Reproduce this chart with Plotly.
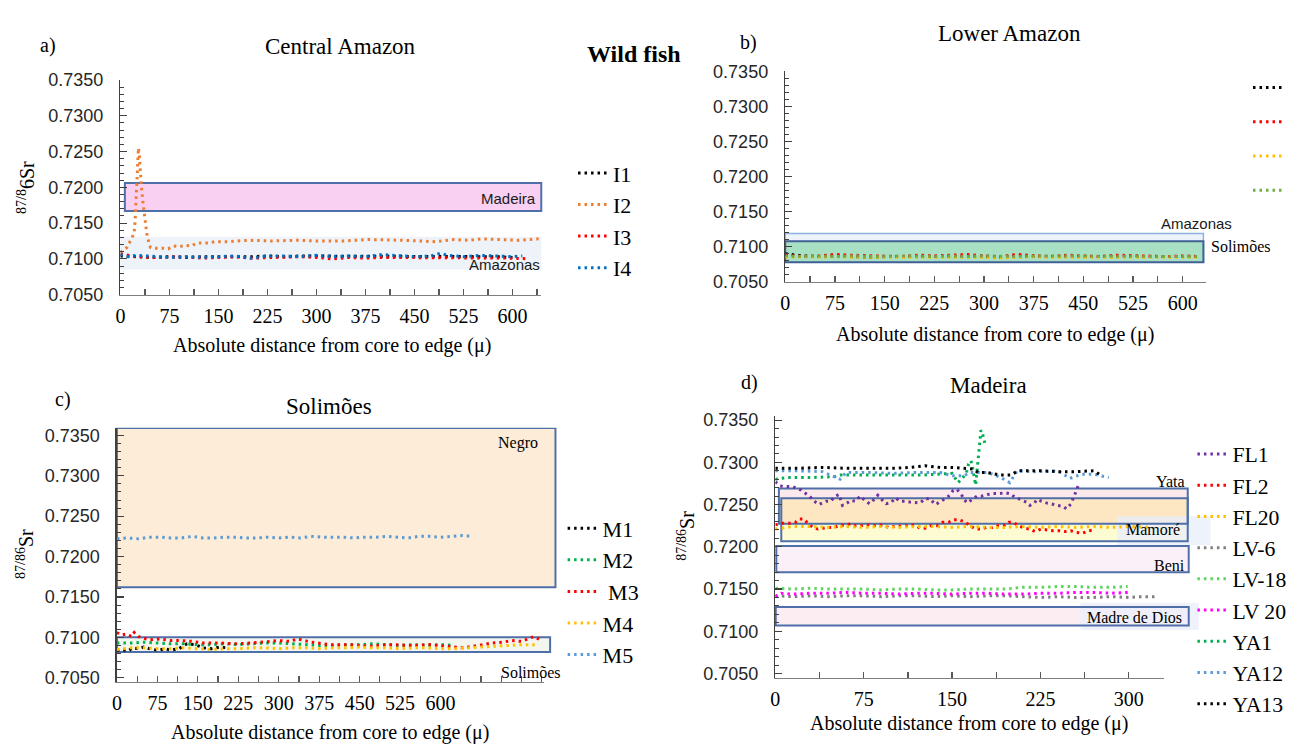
import plotly.graph_objects as go

W, H = 1299, 751
SERIF = "Liberation Serif"
SANS = "Liberation Sans"


def fx(p):
    return p / W


def fy(p):
    return 1 - p / H


# ---------------- shared tick labels ----------------
y_tick_vals = [0.705, 0.710, 0.715, 0.720, 0.725, 0.730, 0.735]
y_tick_text = ["0.7050", "0.7100", "0.7150", "0.7200", "0.7250", "0.7300", "0.7350"]
x_tick_vals_long = [0, 75, 150, 225, 300, 375, 450, 525, 600]
x_tick_vals_short = [0, 75, 150, 225, 300]

# ---------------- a) Central Amazon ----------------
a_names = ["I1", "I2", "I3", "I4"]
a_colors = ["#000000", "#ed7d31", "#ff0000", "#0070c0"]
I1_x = [0, 25, 50, 75, 100, 125, 150, 175, 200, 225, 250, 275, 300, 325, 350, 375, 400, 425, 450, 475, 500, 525, 550, 575, 600]
I1_y = [0.7104, 0.7103, 0.7102, 0.7103, 0.7102, 0.7103, 0.7103, 0.7102, 0.7103, 0.7104, 0.7103, 0.7104, 0.7104,
        0.7103, 0.7104, 0.7103, 0.7104, 0.7103, 0.7103, 0.7103, 0.7104, 0.7103, 0.7103, 0.7103, 0.7102]
I2_x = [0, 10, 17, 21, 22.5, 24, 25, 26, 27, 27.6, 29, 30, 32, 34, 36, 38, 41, 46, 54, 64, 73, 81, 90, 99, 108,
        117, 135, 144, 163, 198, 230, 274, 300, 340, 380, 431, 460, 482, 510, 533, 553, 583, 610, 640]
I2_y = [0.7109, 0.7116, 0.7128, 0.7136, 0.7153, 0.7178, 0.7200, 0.7221, 0.7240, 0.7255, 0.7244, 0.7224, 0.7203,
        0.7183, 0.7167, 0.7149, 0.7131, 0.7116, 0.7115, 0.7115, 0.7114, 0.7118, 0.7117, 0.7119, 0.7118, 0.7122,
        0.7122, 0.7124, 0.7124, 0.7126, 0.7125, 0.7126, 0.7125, 0.7125, 0.7127, 0.7126, 0.7125, 0.7124, 0.7127,
        0.7126, 0.7128, 0.7127, 0.7126, 0.7128]
I3_x = [0, 25, 50, 75, 100, 125, 150, 175, 200, 225, 250, 275, 300, 325, 350, 375, 400, 425, 450, 475, 500, 525,
        550, 575, 600, 625]
I3_y = [0.7107, 0.7103, 0.7102, 0.7102, 0.7103, 0.7101, 0.7102, 0.7103, 0.7101, 0.7102, 0.7102, 0.7103, 0.7102,
        0.7100, 0.7102, 0.7101, 0.7102, 0.7102, 0.7101, 0.7102, 0.7101, 0.7102, 0.7101, 0.7102, 0.7101, 0.7100]
I4_x = [0, 12, 25, 50, 75, 100, 125, 150, 175, 200, 225, 250, 275, 300, 325, 350, 375, 400, 425, 450, 475, 490,
        500, 525, 550, 575, 600, 615]
I4_y = [0.7106, 0.7103, 0.7105, 0.7103, 0.7102, 0.7103, 0.7102, 0.7103, 0.7104, 0.7101, 0.7104, 0.7104, 0.7103,
        0.7105, 0.7103, 0.7104, 0.7103, 0.7106, 0.7104, 0.7103, 0.7104, 0.7108, 0.7105, 0.7103, 0.7105, 0.7104,
        0.7103, 0.7104]
a_madeira_range = [0.7167, 0.7206]
a_amazonas_range = [0.7085, 0.7131]

# ---------------- b) Lower Amazon ----------------
b_colors = ["#000000", "#ff0000", "#ffc000", "#70ad47"]
b_x = [0, 25, 50, 75, 100, 125, 150, 175, 200, 225, 250, 275, 300, 325, 350, 375, 400, 425, 450, 475, 500, 525,
       550, 575, 600, 625]
B1_y = [0.7090, 0.7087, 0.7086, 0.7087, 0.7086, 0.7085, 0.7086, 0.7086, 0.7087, 0.7086, 0.7086, 0.7087, 0.7086,
        0.7085, 0.7087, 0.7086, 0.7086, 0.7087, 0.7086, 0.7086, 0.7087, 0.7086, 0.7086, 0.7087, 0.7087, 0.7086]
B2_y = [0.7088, 0.7086, 0.7087, 0.7089, 0.7088, 0.7087, 0.7086, 0.7086, 0.7088, 0.7087, 0.7088, 0.7089, 0.7087,
        0.7086, 0.7089, 0.7087, 0.7086, 0.7088, 0.7087, 0.7086, 0.7088, 0.7087, 0.7087, 0.7086, 0.7087, 0.7086]
B3_y = [0.7085, 0.7086, 0.7085, 0.7086, 0.7085, 0.7085, 0.7086, 0.7085, 0.7085, 0.7086, 0.7085, 0.7086, 0.7085,
        0.7084, 0.7085, 0.7086, 0.7085, 0.7085, 0.7086, 0.7085, 0.7086, 0.7085, 0.7086, 0.7085, 0.7086, 0.7085]
B4_y = [0.7087, 0.7086, 0.7087, 0.7086, 0.7087, 0.7086, 0.7086, 0.7087, 0.7086, 0.7086, 0.7087, 0.7086, 0.7087,
        0.7086, 0.7086, 0.7087, 0.7087, 0.7086, 0.7087, 0.7086, 0.7086, 0.7087, 0.7086, 0.7087, 0.7086, 0.7086]
b_amazonas_range = [0.7078, 0.7119]
b_solimoes_range = [0.7078, 0.7108]

# ---------------- c) Solimões ----------------
c_names = ["M1", "M2", "\u00a0M3", "M4", "M5"]
c_colors = ["#000000", "#00b050", "#ff0000", "#ffc000", "#5b9bd5"]
M1_x = [0, 10, 20, 30, 40, 50, 60, 75, 90, 100, 115, 130, 145, 160, 175, 190, 205]
M1_y = [0.7084, 0.7085, 0.7083, 0.7087, 0.7086, 0.7088, 0.7086, 0.7084, 0.7086, 0.7084, 0.7086, 0.7092, 0.7091,
        0.7087, 0.7086, 0.7088, 0.7087]
M2_x = [0, 25, 50, 75, 100, 125, 150, 175, 200, 225, 250, 275, 300, 325, 350, 375, 400, 425, 450, 475, 500, 525,
        550, 575, 600, 625]
M2_y = [0.7093, 0.7093, 0.7094, 0.7093, 0.7092, 0.7092, 0.7091, 0.7091, 0.7092, 0.7091, 0.7092, 0.7093, 0.7093,
        0.7092, 0.7091, 0.7090, 0.7090, 0.7091, 0.7091, 0.7092, 0.7091, 0.7090, 0.7091, 0.7090, 0.7091, 0.7090]
M3_x = [0, 8, 18, 27, 32, 40, 60, 80, 100, 120, 140, 160, 190, 220, 250, 280, 300, 320, 335, 360, 395, 430, 470,
        510, 545, 580, 615, 642, 670, 695, 715, 732, 750, 773, 785]
M3_y = [0.7106, 0.7103, 0.7104, 0.7101, 0.7106, 0.7101, 0.7097, 0.7098, 0.7096, 0.7096, 0.7095, 0.7093, 0.7093,
        0.7092, 0.7093, 0.7095, 0.7096, 0.7095, 0.7098, 0.7094, 0.7091, 0.7091, 0.7089, 0.7091, 0.7090, 0.7091,
        0.7089, 0.7087, 0.7090, 0.7093, 0.7094, 0.7096, 0.7095, 0.7101, 0.7097]
M4_x = [0, 25, 50, 75, 100, 125, 150, 175, 200, 225, 250, 275, 300, 325, 350, 375, 400, 425, 450, 475, 500, 525,
        550, 575, 600, 625, 650, 675, 700, 725, 750, 775]
M4_y = [0.7085, 0.7087, 0.7087, 0.7086, 0.7086, 0.7087, 0.7086, 0.7085, 0.7086, 0.7086, 0.7087, 0.7087, 0.7086,
        0.7087, 0.7087, 0.7086, 0.7087, 0.7087, 0.7088, 0.7087, 0.7087, 0.7086, 0.7087, 0.7087, 0.7086, 0.7086,
        0.7087, 0.7088, 0.7089, 0.7090, 0.7091, 0.7091]
M5_x = [0, 20, 40, 60, 80, 100, 120, 140, 160, 180, 200, 220, 240, 260, 280, 300, 320, 340, 360, 380, 400, 420,
        440, 460, 480, 500, 520, 540, 560, 580, 600, 620, 640, 660]
M5_y = [0.7222, 0.7223, 0.7222, 0.7224, 0.7224, 0.7223, 0.7223, 0.7225, 0.7223, 0.7223, 0.7224, 0.7224, 0.7223,
        0.7223, 0.7224, 0.7223, 0.7224, 0.7223, 0.7225, 0.7224, 0.7224, 0.7224, 0.7223, 0.7224, 0.7224, 0.7225,
        0.7224, 0.7223, 0.7225, 0.7225, 0.7224, 0.7225, 0.7226, 0.7225]
c_negro_range = [0.7162, 0.7359]
c_solimoes_range = [0.7082, 0.7100]

# ---------------- d) Madeira ----------------
d_names = ["FL1", "FL2", "FL20", "LV-6", "LV-18", "LV 20", "YA1", "YA12", "YA13"]
d_colors = ["#7030a0", "#ff0000", "#ffc000", "#7f7f7f", "#5fd35f", "#ff00ff", "#00b050", "#5b9bd5", "#000000"]
FL1_x = [0, 4, 15, 22, 29, 33, 37, 43, 47, 50, 54, 57, 61, 64, 68, 72, 76, 80, 83, 87, 91, 94, 98, 102, 106, 110,
         114, 119, 123, 127, 131, 136, 140, 144, 148, 151, 154, 158, 160, 163, 167, 171, 175, 180, 185, 190, 195,
         199, 203, 208, 213, 216, 220, 222, 226, 230, 234, 239, 244, 247, 251, 253, 255, 257]
FL1_y = [0.7277, 0.7272, 0.7271, 0.7267, 0.7260, 0.7254, 0.7250, 0.7254, 0.7254, 0.7259, 0.7262, 0.7249, 0.7252,
         0.7255, 0.7254, 0.7260, 0.7255, 0.7251, 0.7255, 0.7261, 0.7255, 0.7251, 0.7252, 0.7258, 0.7254, 0.7254,
         0.7253, 0.7252, 0.7252, 0.7257, 0.7257, 0.7250, 0.7253, 0.7257, 0.7261, 0.7267, 0.7268, 0.7262, 0.7256,
         0.7252, 0.7256, 0.7260, 0.7260, 0.7262, 0.7263, 0.7263, 0.7264, 0.7263, 0.7259, 0.7256, 0.7253, 0.7249,
         0.7252, 0.7256, 0.7254, 0.7252, 0.7251, 0.7249, 0.7248, 0.7245, 0.7251, 0.7258, 0.7265, 0.7272]
FL2_x = [0, 6, 12, 17, 20.5, 24, 27.5, 31.7, 36, 40, 45, 50, 54, 59, 64, 68, 73, 77, 82, 86, 91, 96, 100.5, 105,
         109, 114, 118, 123, 127, 132, 137, 142, 147, 151, 156, 161.5, 165, 170, 175, 179, 184, 189, 194, 198, 202,
         206.4, 211.4, 215.6, 220.4, 225.5, 231, 236, 241, 245.7, 250.7, 255.5, 260.6, 265.6, 271]
FL2_y = [0.7226, 0.7228, 0.7228, 0.7229, 0.7233, 0.7233, 0.7228, 0.7223, 0.7221, 0.7222, 0.7223, 0.7223, 0.7225,
         0.7226, 0.7227, 0.7225, 0.7225, 0.7226, 0.7225, 0.7225, 0.7226, 0.7223, 0.7224, 0.7225, 0.7225, 0.7225,
         0.7226, 0.7222, 0.7222, 0.7225, 0.7225, 0.7229, 0.7229, 0.7232, 0.7232, 0.7229, 0.7225, 0.7221, 0.7221,
         0.7223, 0.7223, 0.7225, 0.7225, 0.7229, 0.7229, 0.7225, 0.7222, 0.7221, 0.7218, 0.7221, 0.7220, 0.7219,
         0.7219, 0.7218, 0.7219, 0.7217, 0.7216, 0.7219, 0.7220]
FL20_x = [0, 15, 30, 45, 60, 75, 90, 105, 120, 135, 150, 165, 180, 195, 210, 225, 240, 255, 270, 285, 300, 318]
FL20_y = [0.7221, 0.7224, 0.7224, 0.7223, 0.7224, 0.7223, 0.7224, 0.7223, 0.7224, 0.7224, 0.7223, 0.7224, 0.7223,
          0.7223, 0.7224, 0.7223, 0.7224, 0.7223, 0.7224, 0.7223, 0.7224, 0.7223]
LV6_x = [0, 15, 30, 45, 60, 75, 90, 105, 120, 135, 150, 165, 180, 195, 210, 225, 240, 255, 270, 285, 300, 311, 322]
LV6_y = [0.7142, 0.7141, 0.7142, 0.7141, 0.7142, 0.7142, 0.7141, 0.7142, 0.7142, 0.7141, 0.7142, 0.7141, 0.7142,
         0.7142, 0.7141, 0.7140, 0.7141, 0.7140, 0.7140, 0.7141, 0.7140, 0.7141, 0.7141]
LV18_x = [0, 15, 30, 45, 60, 75, 90, 105, 120, 135, 150, 165, 180, 195, 210, 225, 240, 255, 270, 285, 299]
LV18_y = [0.7151, 0.7150, 0.7151, 0.7150, 0.7150, 0.7150, 0.7149, 0.7150, 0.7150, 0.7149, 0.7149, 0.7150, 0.7150,
          0.7150, 0.7152, 0.7152, 0.7153, 0.7153, 0.7152, 0.7152, 0.7153]
LV20_x = [0, 5, 15, 30, 45, 60, 75, 90, 105, 120, 135, 150, 165, 180, 195, 210, 225, 240, 255, 270, 285, 299]
LV20_y = [0.7141, 0.7145, 0.7144, 0.7145, 0.7145, 0.7146, 0.7145, 0.7145, 0.7144, 0.7145, 0.7145, 0.7144, 0.7145,
          0.7145, 0.7144, 0.7144, 0.7145, 0.7145, 0.7146, 0.7146, 0.7145, 0.7146]
YA1_x = [0, 10, 30, 50, 55, 75, 100, 125, 150, 155, 158, 162, 164, 166, 167.5, 169, 170, 172, 173, 174.5, 175.5,
         176.5, 177.7]
YA1_y = [0.7280, 0.7282, 0.7282, 0.7283, 0.7285, 0.7285, 0.7285, 0.7285, 0.7287, 0.7276, 0.7280, 0.7287, 0.7298,
         0.7302, 0.7293, 0.7280, 0.7273, 0.7302, 0.7319, 0.7338, 0.7336, 0.7330, 0.7323]
YA12_x = [0, 20, 40, 55, 60, 80, 100, 120, 140, 150, 160, 165, 180, 190, 199, 205, 220, 240, 250, 260, 270, 283]
YA12_y = [0.7290, 0.7290, 0.7289, 0.7280, 0.7288, 0.7288, 0.7287, 0.7288, 0.7288, 0.7284, 0.7284, 0.7288, 0.7288,
          0.7283, 0.7276, 0.7290, 0.7289, 0.7290, 0.7281, 0.7286, 0.7286, 0.7282]
YA13_x = [0, 20, 40, 60, 80, 100, 115, 127, 140, 150, 160, 168, 172, 180, 190, 200, 206, 215, 225, 240, 255, 270, 276]
YA13_y = [0.7293, 0.7293, 0.7294, 0.7293, 0.7293, 0.7293, 0.7294, 0.7296, 0.7294, 0.7294, 0.7293, 0.7292, 0.7288,
          0.7288, 0.7285, 0.7285, 0.7290, 0.7290, 0.7290, 0.7289, 0.7289, 0.7290, 0.7285]
d_yata_range = [0.72274, 0.72689]
d_mamore_range = [0.72067, 0.72574]
d_beni_range = [0.71698, 0.72009]
d_madre_range = [0.71069, 0.71287]

# ---------------- figure ----------------
fig = go.Figure()
DOT = "2.5px,4px"


def add_line(x, y, color, name, xa, ya, legend, showlegend=True):
    fig.add_trace(go.Scatter(
        x=x, y=y, mode="lines", name=name,
        line=dict(color=color, width=3, dash=DOT),
        xaxis=xa, yaxis=ya, legend=legend, showlegend=showlegend,
        hoverinfo="skip",
    ))


# a
for xs, ys, nm, col in zip([I1_x, I2_x, I3_x, I4_x], [I1_y, I2_y, I3_y, I4_y], a_names, a_colors):
    add_line(xs, ys, col, nm, "x", "y", "legend")
# b
for ys, col in zip([B1_y, B2_y, B3_y, B4_y], b_colors):
    add_line(b_x, ys, col, " ", "x2", "y2", "legend2")
# c
for xs, ys, nm, col in zip([M1_x, M2_x, M3_x, M4_x, M5_x], [M1_y, M2_y, M3_y, M4_y, M5_y], c_names, c_colors):
    add_line(xs, ys, col, nm, "x3", "y3", "legend3")
# d
d_xs = [FL1_x, FL2_x, FL20_x, LV6_x, LV18_x, LV20_x, YA1_x, YA12_x, YA13_x]
d_ys = [FL1_y, FL2_y, FL20_y, LV6_y, LV18_y, LV20_y, YA1_y, YA12_y, YA13_y]
for xs, ys, nm, col in zip(d_xs, d_ys, d_names, d_colors):
    add_line(xs, ys, col, nm, "x4", "y4", "legend4")

# ---------------- axes ----------------
AX_COL = "#404040"


def xaxis(domain, rng, tickvals, anchor):
    return dict(
        domain=domain, range=rng, anchor=anchor, showgrid=False, zeroline=False,
        showline=True, linecolor="#7f7f7f", linewidth=1.5,
        ticks="inside", ticklen=6, tickwidth=1.2, tickcolor="#595959",
        tickvals=tickvals, ticktext=[str(v) for v in tickvals],
        minor=dict(ticks="inside", ticklen=6, tickwidth=1.2, tickcolor="#595959", dtick=37.5, tick0=0),
        tickfont=dict(family=SERIF, size=20, color="#000000"),
        ticklabelstandoff=3, fixedrange=True,
    )


def yaxis(domain, rng, anchor):
    return dict(
        domain=domain, range=rng, anchor=anchor, showgrid=False, zeroline=False,
        showline=True, linecolor=AX_COL, linewidth=1.5,
        ticks="inside", ticklen=7, tickwidth=1.2, tickcolor=AX_COL,
        tickvals=y_tick_vals, ticktext=y_tick_text,
        minor=dict(ticks="inside", ticklen=4, tickwidth=1, tickcolor=AX_COL, dtick=0.001, tick0=0.705),
        tickfont=dict(family=SANS, size=18, color="#262626"),
        ticklabelstandoff=12, fixedrange=True,
    )


layout_axes = dict(
    xaxis=xaxis([fx(116.2), fx(540)], [0, 644], x_tick_vals_long, "y"),
    yaxis=yaxis([fy(292.4), fy(72)], [0.705, 0.735], "x"),
    xaxis2=xaxis([fx(785.7), fx(1209.3)], [0, 635], x_tick_vals_long, "y2"),
    yaxis2=yaxis([fy(279.3), fy(63)], [0.705, 0.735], "x2"),
    xaxis3=xaxis([fx(112.7), fx(542.9)], [0, 792], x_tick_vals_long, "y3"),
    yaxis3=yaxis([fy(690), fy(429.3)], [0.70452, 0.73593], "x3"),
    xaxis4=xaxis([fx(775.7), fx(1167.3)], [0, 330], x_tick_vals_short, "y4"),
    yaxis4=yaxis([fy(686), fy(417)], [0.7045, 0.7355], "x4"),
)

# ---------------- reference boxes ----------------
shapes = []
BORDER = "#4f6fa8"


def box(xa, ya, x0, x1, yr, fill, line_col=None, line_w=2, layer="below"):
    shapes.append(dict(
        type="rect", xref=xa + " domain", yref=ya, x0=x0, x1=x1, y0=yr[0], y1=yr[1],
        fillcolor=fill, line=dict(color=line_col if line_col else "rgba(0,0,0,0)", width=line_w if line_col else 0),
        layer=layer,
    ))


# a
box("x", "y", 0.0, 1.0, a_amazonas_range, "#eef3f9")
box("x", "y", 0.0106, 1.0, a_madeira_range, "#f9d0f2", BORDER, 2)
# b
box("x2", "y2", 0.0, 0.994, b_amazonas_range, "#edf3fb", "#8db3e2", 1.5)
box("x2", "y2", 0.0, 0.994, b_solimoes_range, "#a8e0c4", "#3f5f95", 2)
# c
box("x3", "y3", 0.0, 1.0265, c_negro_range, "#fdecd8", BORDER, 2)
box("x3", "y3", 0.0, 1.014, c_solimoes_range, "#f3f6ee", BORDER, 2)
# d : Yata / Mamoré overlap drawn as three fills + two outlines
box("x4", "y4", 0.0092, 1.0605, [d_mamore_range[1], d_yata_range[1]], "#fce9ec")
box("x4", "y4", 0.0092, 1.0605, [d_yata_range[0], d_mamore_range[1]], "#fce7c2")
box("x4", "y4", 0.0153, 1.0605, [d_mamore_range[0], d_yata_range[0]], "#fdfbd2")
box("x4", "y4", 0.0026, 1.063, d_beni_range, "#fcf0f8")
box("x4", "y4", 0.001, 1.063, d_madre_range, "#fcedf2")
# label backgrounds (d)
shapes.append(dict(type="rect", xref="paper", yref="paper", x0=fx(1120), x1=fx(1214), y0=fy(550), y1=fy(520),
                   fillcolor="rgba(232,238,250,0.75)", line=dict(width=0), layer="below"))
shapes.append(dict(type="rect", xref="paper", yref="paper", x0=fx(1083), x1=fx(1202), y0=fy(637), y1=fy(609),
                   fillcolor="rgba(235,238,250,0.8)", line=dict(width=0), layer="below"))
# outlines (d)
box("x4", "y4", 0.0092, 1.0605, d_yata_range, "rgba(0,0,0,0)", BORDER, 2)
box("x4", "y4", 0.0153, 1.0605, d_mamore_range, "rgba(0,0,0,0)", BORDER, 2)
box("x4", "y4", 0.0026, 1.063, d_beni_range, "rgba(0,0,0,0)", BORDER, 2)
box("x4", "y4", 0.001, 1.063, d_madre_range, "rgba(0,0,0,0)", BORDER, 2)

# ---------------- text ----------------
annotations = []


def text(t, x, y, size=20, family=SERIF, xanchor="center", angle=0, color="#000000"):
    annotations.append(dict(
        text=t, x=fx(x), y=fy(y), xref="paper", yref="paper", showarrow=False,
        xanchor=xanchor, yanchor="middle", textangle=angle,
        font=dict(family=family, size=size, color=color),
    ))


# panel titles
text("a)", 43, 36)
text("Central Amazon", 338, 37, 23)
text("<b>Wild fish</b>", 633, 45, 24)
text("b)", 749, 33)
text("Lower Amazon", 1012, 24, 23)
text("c)", 58, 400)
text("Solimões", 326, 407, 23)
text("d)", 750, 383)
text("Madeira", 990, 386, 23)

# axis titles
XT = "Absolute distance from core to edge (μ)"
text(XT, 329, 345)
text(XT, 997, 333)
text(XT, 327, 742)
text(XT, 971, 733)
text("<sup>87/8</sup>6Sr", 21, 182, 20, angle=-90)
text("<sup>87/86</sup>Sr", 20, 559, 20, angle=-90)
text("<sup>87/86</sup>Sr", 685, 540, 20, angle=-90)

# reference box labels
text("Madeira", 537, 194, 15, SANS, "right", color="#1a1a1a")
text("Amazonas", 541, 261, 15, SANS, "right", color="#1a1a1a")
text("Amazonas", 1238, 219, 15, SANS, "right", color="#1a1a1a")
text("Solimões", 1212, 243, 16, SERIF, "left")
text("Negro", 539, 445, 16, SERIF, "right")
text("Solimões", 497, 681, 16, SERIF, "left")
text("Yata", 1190, 484, 16, SERIF, "right")
text("Mamoré", 1156, 534, 16, SERIF)
text("Beni", 1190, 571, 16, SERIF, "right")
text("Madre de Dios", 1137, 624, 16, SERIF)


def legend(x, y, size):
    return dict(
        x=fx(x), y=fy(y), xref="paper", yref="paper", xanchor="left", yanchor="top",
        bgcolor="rgba(0,0,0,0)", borderwidth=0, tracegroupgap=0,
        font=dict(family=SERIF, size=size, color="#000000"), itemclick=False, itemdoubleclick=False,
    )


fig.update_layout(
    width=W, height=H, margin=dict(l=0, r=0, t=0, b=0),
    paper_bgcolor="white", plot_bgcolor="rgba(0,0,0,0)",
    showlegend=True,
    legend=legend(572, 146, 22),
    legend2=legend(1252, 57, 24),
    legend3=legend(561.5, 511, 22),
    legend4=legend(1195.7, 435, 21.7),
    shapes=shapes, annotations=annotations,
    **layout_axes,
)

fig.write_html(
    "out.html",
    config={"displayModeBar": False, "staticPlot": True},
    post_script="document.documentElement.style.margin='0';document.body.style.margin='0';"
                "document.body.style.overflow='hidden';",
)
